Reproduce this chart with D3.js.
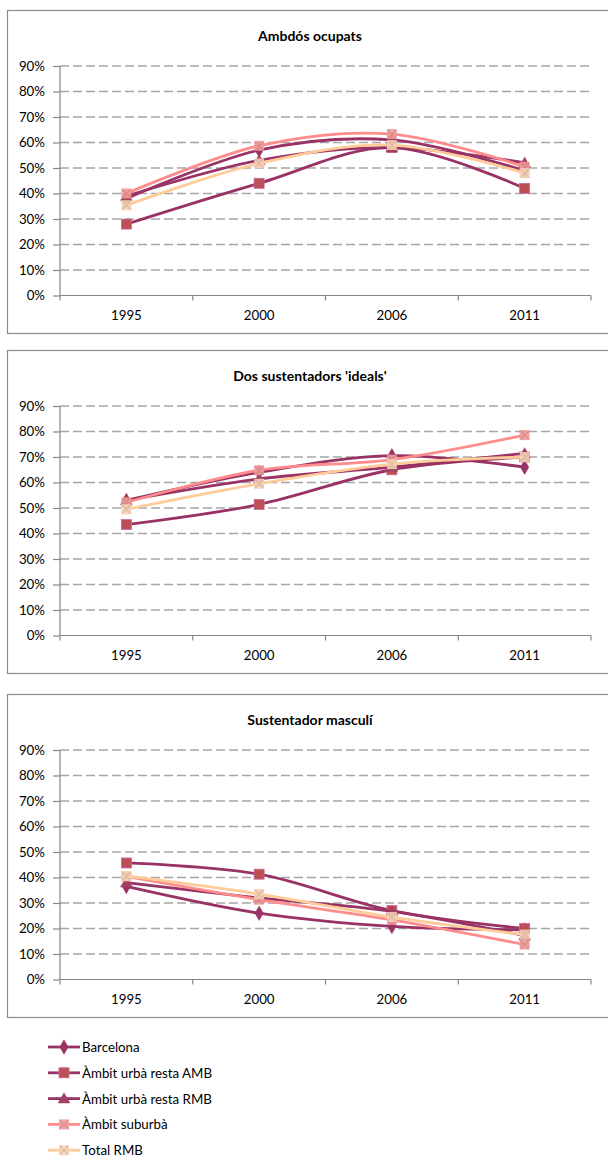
<!DOCTYPE html>
<html><head><meta charset="utf-8">
<script src="https://cdn.jsdelivr.net/npm/d3@7"></script>
<style>
body{margin:0;background:#fff;}
svg{display:block;}
text{font-family:Lato,"Open Sans",sans-serif;fill:#000;}
</style></head>
<body>
<svg id="c" width="608" height="1158"></svg>
<script>
// ---- data ----
const years = ["1995", "2000", "2006", "2011"];
const seriesNames = ["Barcelona", "Àmbit urbà resta AMB", "Àmbit urbà resta RMB", "Àmbit suburbà", "Total RMB"];
const chartTitles = ["Ambdós ocupats", "Dos sustentadors 'ideals'", "Sustentador masculí"];
const yTicks = [0, 0.1, 0.2, 0.3, 0.4, 0.5, 0.6, 0.7, 0.8, 0.9];
// rows follow seriesNames order
const ambdosOcupats = [
  [0.38, 0.57, 0.61, 0.49],
  [0.28, 0.44, 0.58, 0.42],
  [0.39, 0.53, 0.58, 0.52],
  [0.40, 0.587, 0.633, 0.505],
  [0.354, 0.518, 0.59, 0.48]
];
const dosSustentadors = [
  [0.53, 0.64, 0.705, 0.66],
  [0.435, 0.514, 0.65, 0.70],
  [0.53, 0.614, 0.66, 0.714],
  [0.522, 0.648, 0.69, 0.786],
  [0.495, 0.595, 0.672, 0.70]
];
const sustentadorMasculi = [
  [0.365, 0.26, 0.208, 0.195],
  [0.457, 0.413, 0.27, 0.20],
  [0.38, 0.32, 0.267, 0.172],
  [0.404, 0.313, 0.234, 0.137],
  [0.406, 0.335, 0.245, 0.176]
];
const chartData = [ambdosOcupats, dosSustentadors, sustentadorMasculi];

// ---- styles ----
const lineColors = ["#993366", "#993366", "#993366", "#FF8C8C", "#FFCC99"];
const markerFills = ["#993366", "#BC4F55", "#A3405F", "#EE9A9A", "#F6CFB5"];
const markerTypes = ["diamond", "square", "triangle", "xsquare", "xsquare"];
const boxTops = [10, 350, 694];

const svg = d3.select("#c");
const xLeft = 60, xRight = 591;

function drawMarker(g, type, x, y, fill) {
  if (type === "diamond") {
    g.append("path").attr("d", d3.symbol(d3.symbolDiamond, 60)()).attr("transform", `translate(${x},${y})`)
      .attr("fill", fill).attr("stroke", fill).attr("stroke-width", 0.5);
  } else if (type === "square") {
    g.append("rect").attr("x", x - 5).attr("y", y - 5).attr("width", 10).attr("height", 10)
      .attr("fill", fill).attr("stroke", "#C76A9A").attr("stroke-width", 0.8);
  } else if (type === "triangle") {
    g.append("path").attr("d", d3.symbol(d3.symbolTriangle, 60)()).attr("transform", `translate(${x},${y + 1})`)
      .attr("fill", fill).attr("stroke", fill).attr("stroke-width", 0.5);
  } else {
    g.append("rect").attr("x", x - 5).attr("y", y - 5).attr("width", 10).attr("height", 10)
      .attr("fill", fill).attr("opacity", 0.9);
    g.append("path").attr("d", `M${x-4},${y-4}L${x+4},${y+4}M${x+4},${y-4}L${x-4},${y+4}`)
      .attr("stroke", d3.color(fill).darker(0.3)).attr("stroke-width", 1.2);
  }
}

chartData.forEach((data, ci) => {
  const top = boxTops[ci];
  const g = svg.append("g");
  g.append("rect").attr("x", 7.5).attr("y", top + 0.5).attr("width", 640).attr("height", 323)
    .attr("fill", "#fff").attr("stroke", "#8C8C8C").attr("stroke-width", 1.2);
  g.append("text").attr("x", 310).attr("y", top + 30.5).attr("text-anchor", "middle")
    .attr("font-size", 14).attr("font-weight", "bold").text(chartTitles[ci]);

  const y = d3.scaleLinear().domain([0, 0.9]).range([top + 285.5, top + 56]);
  const x = d3.scaleBand().domain(years).range([xLeft, xRight]);

  // gridlines
  g.selectAll(".grid").data(yTicks.filter(d => d > 0)).join("line")
    .attr("x1", xLeft).attr("x2", xRight).attr("y1", d => y(d)).attr("y2", d => y(d))
    .attr("stroke", "#A6A6A6").attr("stroke-width", 1.4).attr("stroke-dasharray", "9,4");

  // y axis
  const yAxis = d3.axisLeft(y).tickValues(yTicks).tickFormat(d3.format(".0%")).tickSize(7).tickPadding(8);
  const ya = g.append("g").attr("transform", `translate(${xLeft},0)`).call(yAxis);
  ya.select(".domain").attr("stroke", "#868686").attr("stroke-width", 1.2).attr("d", `M0,${y(0.9)}V${y(0)}`);
  ya.selectAll(".tick line").attr("stroke", "#868686").attr("stroke-width", 1.2);
  ya.selectAll(".tick text").attr("font-size", 13.3).attr("font-family", "Lato,sans-serif").attr("fill", "#000");

  // x axis
  const xa = g.append("g").attr("transform", `translate(0,${y(0)})`)
    .call(d3.axisBottom(x).tickSize(0).tickPadding(15.5));
  xa.select(".domain").attr("stroke", "#868686").attr("stroke-width", 1.2).attr("d", `M${xLeft},0H${xRight}`);
  xa.selectAll(".tick text").attr("font-size", 13.3).attr("font-family", "Lato,sans-serif").attr("fill", "#000");
  const bounds = x.domain().map(d => x(d)).concat([xRight]);
  g.selectAll(".xt").data(bounds).join("line")
    .attr("x1", d => d).attr("x2", d => d).attr("y1", y(0)).attr("y2", y(0) + 5)
    .attr("stroke", "#868686").attr("stroke-width", 1.2);

  // series
  const line = d3.line().x((d, i) => x(years[i]) + x.bandwidth() / 2).y(d => y(d))
    .curve(d3.curveCardinal.tension(0));
  data.forEach((vals, si) => {
    const sg = g.append("g");
    sg.append("path").attr("d", line(vals)).attr("fill", "none")
      .attr("stroke", lineColors[si]).attr("stroke-width", 2.8).attr("stroke-linejoin", "round");
    vals.forEach((v, i) => drawMarker(sg, markerTypes[si], x(years[i]) + x.bandwidth() / 2, y(v), markerFills[si]));
  });
});

// legend
const lg = svg.append("g");
seriesNames.forEach((name, i) => {
  const ly = 1047 + i * 25.8;
  lg.append("line").attr("x1", 48).attr("x2", 80).attr("y1", ly).attr("y2", ly)
    .attr("stroke", lineColors[i]).attr("stroke-width", 2.8);
  drawMarker(lg, markerTypes[i], 64, ly, markerFills[i]);
  lg.append("text").attr("x", 82).attr("y", ly + 5).attr("font-size", 13.3).text(name);
});
</script>
</body></html>
